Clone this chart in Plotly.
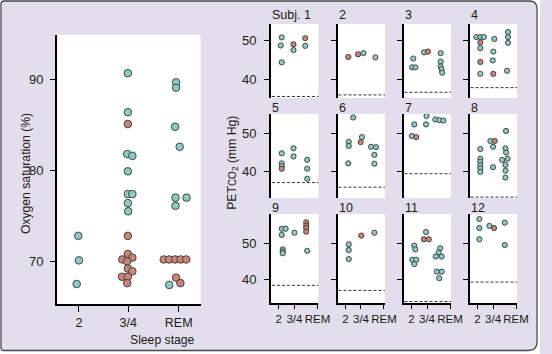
import plotly.graph_objects as go

W, H = 552, 354

# ---------------- data ----------------
STAGES = ["2", "3/4", "REM"]

# Left panel: oxygen saturation (%) by sleep stage  (kind: a = teal, b = red)
LEFT_STAGE = ["2"] * 3 + ["3/4"] * 20 + ["REM"] * 15
LEFT_VALUE = [72.8, 70.1, 67.5,
              90.7, 86.4, 81.8, 81.6, 79.9, 77.4, 77.4, 76.4, 75.5,
              85.1, 72.8, 70.8, 70.2, 70.4, 70.0, 69.2, 68.9, 68.3, 68.3, 67.6,
              89.7, 89.1, 84.8, 82.6, 77.0, 77.0, 76.1, 67.4,
              70.2, 70.2, 70.2, 70.2, 70.2, 68.2, 67.6]
LEFT_KIND = list("aaa" + "a" * 9 + "b" * 11 + "a" * 8 + "b" * 7)

# Per-subject PETCO2 (mm Hg): (stage, value, kind)
S1 = [("2", 50.9, "a"), ("2", 48.8, "a"), ("2", 44.4, "a"), ("3/4", 49.1, "b"), ("3/4", 47.6, "a"),
      ("REM", 50.7, "b"), ("REM", 48.7, "a")]
S2 = [("2", 45.8, "b"), ("3/4", 46.5, "b"), ("3/4", 46.8, "a"), ("REM", 45.7, "a")]
S3 = [("2", 45.4, "a"), ("2", 43.1, "a"), ("2", 43.1, "a"), ("3/4", 47.0, "a"), ("3/4", 47.2, "b"),
      ("REM", 46.8, "a"), ("REM", 44.6, "a"), ("REM", 43.3, "a"), ("REM", 42.6, "a"), ("REM", 41.7, "a")]
S4 = [("2", 51.0, "a"), ("2", 51.0, "a"), ("2", 51.0, "a"), ("2", 49.6, "b"), ("2", 48.1, "a"),
      ("2", 44.5, "b"), ("2", 41.4, "a"),
      ("3/4", 50.5, "a"), ("3/4", 47.2, "a"), ("3/4", 44.9, "a"), ("3/4", 41.4, "b"),
      ("REM", 52.3, "a"), ("REM", 51.0, "a"), ("REM", 49.5, "a"), ("REM", 42.2, "a")]
S5 = [("2", 44.8, "a"), ("2", 42.2, "a"), ("2", 41.5, "a"), ("2", 40.8, "b"), ("3/4", 46.1, "a"),
      ("3/4", 44.0, "a"), ("REM", 43.1, "a"), ("REM", 40.8, "a"), ("REM", 38.2, "a")]
S6 = [("2", 54.1, "a"), ("2", 47.8, "a"), ("2", 46.7, "a"), ("2", 42.2, "a"), ("3/4", 49.0, "a"),
      ("3/4", 47.7, "b"), ("REM", 46.5, "a"), ("REM", 46.4, "a"), ("REM", 44.4, "a"), ("REM", 42.1, "a")]
S7 = [("2", 52.3, "a"), ("2", 49.3, "a"), ("2", 49.0, "b"), ("3/4", 54.5, "a"), ("3/4", 52.3, "a"),
      ("REM", 53.6, "a"), ("REM", 53.4, "a"), ("REM", 53.3, "a")]
S8 = [("2", 45.9, "a"), ("2", 43.4, "a"), ("2", 42.6, "a"), ("2", 41.7, "a"), ("2", 40.9, "a"),
      ("2", 40.0, "a"),
      ("3/4", 48.0, "a"), ("3/4", 48.0, "b"), ("3/4", 46.5, "a"), ("3/4", 41.2, "a"),
      ("REM", 50.6, "a"), ("REM", 46.1, "a"), ("REM", 45.0, "a"), ("REM", 43.1, "a"), ("REM", 43.4, "a"),
      ("REM", 41.8, "a"), ("REM", 40.3, "a"), ("REM", 38.5, "a")]
S9 = [("2", 54.0, "a"), ("2", 54.0, "a"), ("2", 52.3, "a"), ("2", 48.3, "a"), ("2", 47.7, "a"),
      ("2", 47.2, "a"), ("3/4", 52.9, "a"), ("REM", 55.8, "b"), ("REM", 54.9, "b"), ("REM", 54.2, "b"),
      ("REM", 53.2, "b"), ("REM", 47.9, "a")]
S10 = [("2", 49.7, "a"), ("2", 48.1, "a"), ("2", 45.6, "a"), ("3/4", 52.1, "b"), ("REM", 52.9, "a")]
S11 = [("2", 49.3, "a"), ("2", 48.3, "a"), ("2", 45.4, "a"), ("2", 45.4, "a"), ("2", 44.2, "a"),
       ("3/4", 53.1, "a"), ("3/4", 51.1, "b"), ("3/4", 51.1, "b"),
       ("REM", 48.6, "a"), ("REM", 47.4, "a"), ("REM", 46.3, "a"), ("REM", 46.3, "a"), ("REM", 42.1, "a"),
       ("REM", 42.1, "a"), ("REM", 40.3, "a")]
S12 = [("2", 56.7, "a"), ("2", 54.2, "a"), ("2", 51.1, "a"), ("3/4", 54.8, "a"), ("3/4", 54.2, "b"),
       ("REM", 55.7, "a"), ("REM", 49.5, "a")]
SUBJECTS = [S1, S2, S3, S4, S5, S6, S7, S8, S9, S10, S11, S12]
SUBJ_TITLES = ["Subj. 1"] + [str(i) for i in range(2, 13)]

# Awake baseline PETCO2 (dashed line) for each subject
BASELINE = [35.5, 35.9, 36.6, 37.8, 37.2, 36.0, 39.5, 33.45, 38.3, 36.9, 33.8, 39.2]

# ---------------- positions / styles (not data) ----------------
LEFT_JIT = [-0.7, 0, -2.3,
            -0.3, -0.3, -1, 4.3, -0.3, -0.3, 4.3, -0.3, 0,
            -0.3, -0.3, -0.3, -6, 4.3, -1, -0.3, 4.3, -6.3, -0.3, -1,
            -2.7, -2.7, -3.7, 1, -3.3, 8, -3.3, -9.7,
            -15.3, -9.7, -3.7, 2, 7.7, -2.7, 1.7]
JIT = [
    [0, -1, 0, 0, 0, -1, -1],
    [0, -2, 3.5, 2.7],
    [-1, -2.3, 1.2, -2, 2, 2, 2, 2, 2.8, 3.5],
    [-4, 0, 3.6, 0, 0, 0, 0, 2.3, 1.3, 0.7, 1.3, 3.3, 3.3, 3.3, 2.3],
    [0, 0, 0, 0, 0, 0, 1, 1, 1],
    [5, 0.5, 0.5, 0, 2, 0.7, -1.7, 3.3, 1.7, 1.7],
    [0, -2.5, 2, 0.5, 0, -3.5, 0.5, 4.8],
    [0, 0, 0, 0, 0, 0, -1.7, 2.7, 1, 1, 1.3, 0.7, 1.3, -2.7, 3, 0.7, 0.7, 0.7],
    [0, 4, 0, 1, 1, 1, 1, 0, 0, 0, 0, 1],
    [0.5, 0.5, 0.5, 1.3, 1.7],
    [0, 1, -2, 2, 0, 0, -2.2, 2.8, 1.5, 0, -3, 3, -2, 3, 0.5],
    [-1, -1, -1, -2.7, 2, 0, 0],
]

LAV = "#e3deec"
TEAL = "#8ecac3"
RED = "#c8837b"
EDGE = "#383838"
INK = "#1a1a1a"
FONT = "Liberation Sans, Arial, sans-serif"

LEFT_BOX = (58.3, 35, 205, 304)           # px: left, top, right, bottom
LEFT_YR = [65.3, 94.9]
LEFT_STAGE_X = [22.4, 72.7, 124.4]         # relative px from axis

COL_LEFT = [277, 345, 412.5, 480]
SUB_W = 48.5
ROW_TOP = [24, 114, 214]
ROW_BOT = [98, 198, 303]
ROW_YR = [[35.1, 54.4], [33.2, 55.0], [33.4, 58.1]]
SUB_STAGE_X = [11, 23, 36]
SUB_TICK_X = [8, 24, 47.5]


def fx(px):
    return px / W


def fy(py):
    return 1 - py / H


fig = go.Figure()

# ---- left panel ----
lx = [LEFT_STAGE_X[STAGES.index(s)] + j for s, j in zip(LEFT_STAGE, LEFT_JIT)]
fig.add_trace(go.Scatter(
    x=lx, y=LEFT_VALUE, mode="markers", xaxis="x", yaxis="y",
    marker=dict(size=7.6, color=[TEAL if k == "a" else RED for k in LEFT_KIND],
                line=dict(color=EDGE, width=0.9)),
    hoverinfo="skip"))

axis_common = dict(showgrid=False, zeroline=False, linecolor="black", linewidth=2,
                   tickcolor="black", tickwidth=1.4, color=INK, fixedrange=True)

lay = dict(
    xaxis=dict(domain=[fx(LEFT_BOX[0]), fx(LEFT_BOX[2])], anchor="y",
               range=[0, LEFT_BOX[2] - LEFT_BOX[0]], showline=True, ticks="outside", ticklen=6,
               tickvals=LEFT_STAGE_X, ticktext=STAGES, tickfont=dict(size=12.5),
               tickangle=0, **axis_common),
    yaxis=dict(domain=[fy(LEFT_BOX[3]), fy(LEFT_BOX[1])], anchor="x",
               range=LEFT_YR, showline=True, ticks="outside", ticklen=5,
               tickvals=[70, 80, 90], tickfont=dict(size=13), ticklabelstandoff=4, **axis_common),
)

shapes = []
annotations = []

for i, subj in enumerate(SUBJECTS):
    r, c = divmod(i, 4)
    k = i + 2
    xs = [SUB_STAGE_X[STAGES.index(s)] + j for (s, v, kd), j in zip(subj, JIT[i])]
    ys = [v for (s, v, kd) in subj]
    cols = [TEAL if kd == "a" else RED for (s, v, kd) in subj]
    fig.add_trace(go.Scatter(
        x=xs, y=ys, mode="markers", xaxis=f"x{k}", yaxis=f"y{k}",
        marker=dict(size=5.2, color=cols, line=dict(color=EDGE, width=0.9)),
        hoverinfo="skip"))
    bottom_row = (r == 2)
    xa = dict(domain=[fx(COL_LEFT[c]), fx(COL_LEFT[c] + SUB_W)], anchor=f"y{k}",
              range=[0, SUB_W], showline=bottom_row, ticks="outside" if bottom_row else "",
              showticklabels=bottom_row, **axis_common)
    if bottom_row:
        xa.update(ticklen=4, tickvals=SUB_TICK_X, ticktext=STAGES,
                  tickfont=dict(size=11.5), tickangle=0)
    lay[f"xaxis{k}"] = xa
    lay[f"yaxis{k}"] = dict(
        domain=[fy(ROW_BOT[r]), fy(ROW_TOP[r])], anchor=f"x{k}",
        range=ROW_YR[r], showline=True, ticks="outside", ticklen=5,
        tickvals=[40, 50], showticklabels=(c == 0), tickfont=dict(size=13),
        ticklabelstandoff=5, **axis_common)
    shapes.append(dict(type="line", xref=f"x{k} domain", x0=0.02, x1=1, yref=f"y{k}",
                       y0=BASELINE[i], y1=BASELINE[i],
                       line=dict(color="#333333", width=1, dash="3px,2px")))
    title_y = [15.5, 108.3, 208][r]
    annotations.append(dict(text=SUBJ_TITLES[i], xref="paper", yref="paper",
                            x=fx(COL_LEFT[c] - 0.5), y=fy(title_y), xanchor="left",
                            yanchor="middle", showarrow=False, font=dict(size=12.5, color=INK)))

# axis titles
annotations += [
    dict(text="Oxygen saturation (%)", xref="paper", yref="paper", x=fx(18), y=fy(173.5),
         textangle=-90, showarrow=False, font=dict(size=12.2, color=INK)),
    dict(text="Sleep stage", xref="paper", yref="paper", x=fx(131), y=fy(340),
         yanchor="middle", showarrow=False, font=dict(size=12.2, color=INK)),
    dict(text="PET<span style='font-size:10px'>CO</span><sub>2</sub> (mm Hg)", xref="paper",
         yref="paper", x=fx(238), y=fy(163), textangle=-90, showarrow=False,
         font=dict(size=12.2, color=INK)),
]

# frame with rounded corners
L, T, R, B = 1.0, 1.0, 549.0, 350.5
r1, r2, r3, r4 = 3, 8, 9, 3


def P(x, y):
    return f"{fx(x):.5f},{fy(y):.5f}"


inner = (f"M {P(L + r1, T)} L {P(R - r2, T)} Q {P(R, T)} {P(R, T + r2)} "
         f"L {P(R, B - r3)} Q {P(R, B)} {P(R - r3, B)} L {P(L + r4, B)} "
         f"Q {P(L, B)} {P(L, B - r4)} L {P(L, T + r1)} Q {P(L, T)} {P(L + r1, T)} Z")
outer = f"M {P(0, 0)} L {P(W, 0)} L {P(W, H)} L {P(0, H)} Z "
shapes.append(dict(type="path", xref="paper", yref="paper", path=outer + inner,
                   fillcolor="white", fillrule="evenodd", line=dict(width=0), layer="above"))
shapes.append(dict(type="path", xref="paper", yref="paper", path=inner,
                   line=dict(color="#4a4a4a", width=1.3), layer="above"))

fig.update_layout(
    width=W, height=H, margin=dict(l=0, r=0, t=0, b=0),
    paper_bgcolor=LAV, plot_bgcolor="white", showlegend=False,
    font=dict(family=FONT, size=12, color=INK),
    shapes=shapes, annotations=annotations, **lay)

fig.write_html("out.html")
